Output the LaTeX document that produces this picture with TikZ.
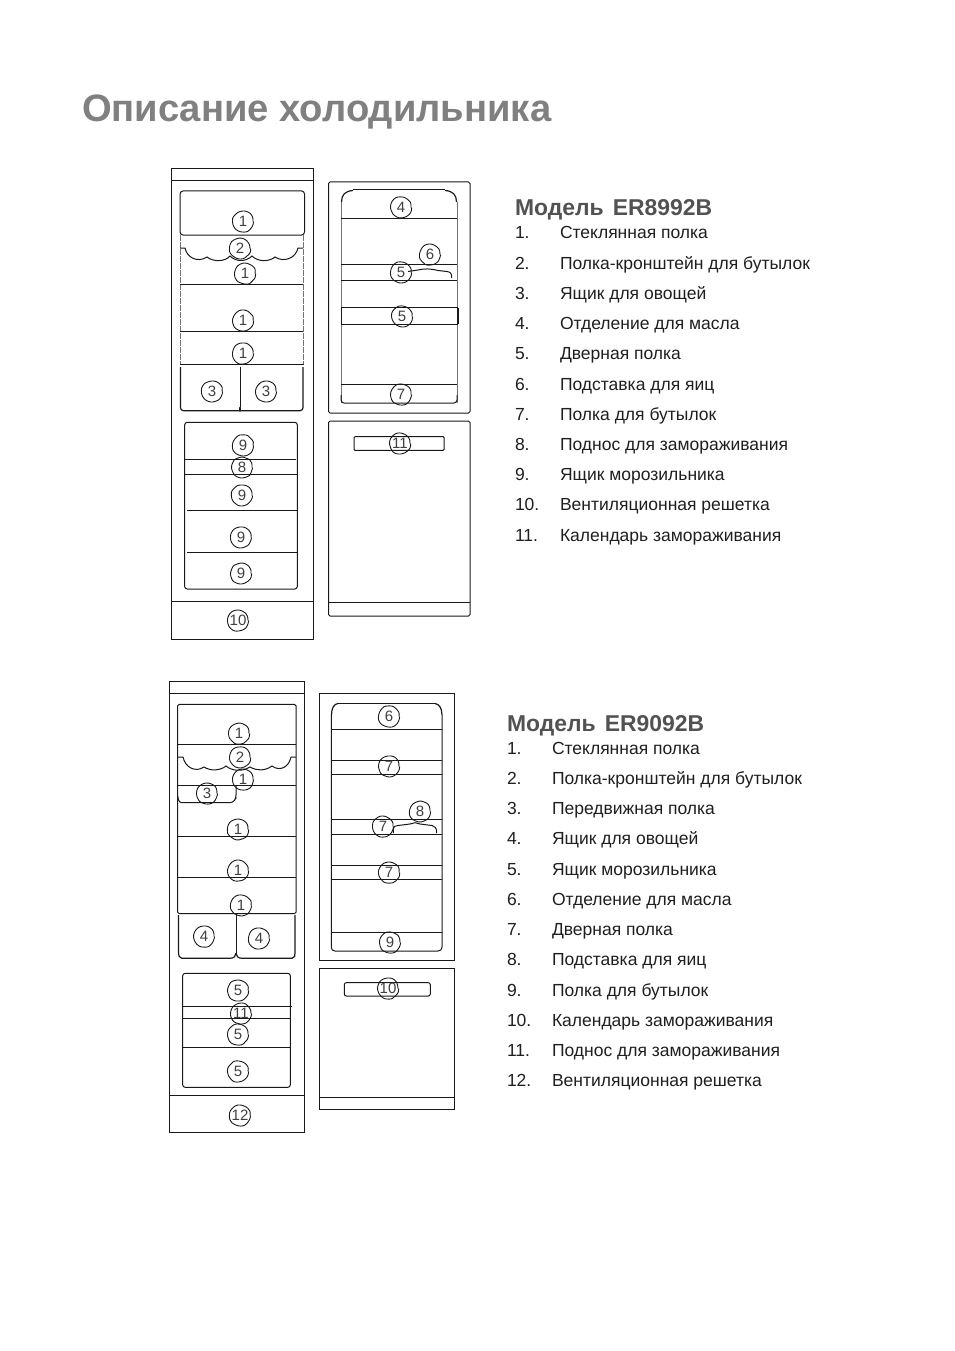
\documentclass[tikz,border=0pt]{standalone}
\usepackage{fontspec}
\usetikzlibrary{decorations.pathmorphing}
\setmainfont{Liberation Sans}
\pgfmathsetseed{7}
\tikzset{
  every node/.style={inner sep=0pt,outer sep=0pt},
  ln/.style={draw=black!90,line width=1pt},
  thick ln/.style={draw=black!90,line width=1.6pt},
  faint/.style={draw=black!55,line width=0.7pt,dash pattern=on 6pt off 1pt},
  side/.style={draw=black!55,line width=0.8pt},
  num/.style={circle,minimum size=20pt,yshift=-0.5pt,font=\fontsize{15}{16}\selectfont,text=black!75,
    draw=black!90,line width=0.9pt,decorate,decoration={random steps,segment length=4pt,amplitude=0.45pt},rounded corners=1pt},
  ttl/.style={anchor=base west,font=\fontsize{38.2}{40}\bfseries\selectfont,text=black!50},
  hd/.style={anchor=base west,font=\fontsize{22.9}{24}\bfseries\selectfont,text=black!68},
  it/.style={anchor=base west,font=\fontsize{17.5}{20}\selectfont,text=black!88},
}
\begin{document}
\begin{tikzpicture}[x=1pt,y=-1pt]
\useasboundingbox[fill=white] (0,0) rectangle (954,1351);
\node[ttl] (title) at (82,122) {Описание холодильника};

% ---------- ER8992B: cabinet
\draw[ln] (171.5,168.5) rectangle (313,639);
\draw[thick ln] (171.5,180.7) -- (313,180.7);
\draw[ln] (171.5,601.7) -- (313,601.7);
\draw[ln,rounded corners=3pt] (180,235) -- (180,191) -- (304.5,191) -- (304.5,235) -- cycle;
\draw[faint] (180.5,235) -- (180.5,364);
\draw[faint] (303,235) -- (303,364);
\draw[ln] (180,284) -- (303,284);
\draw[ln] (180,331) -- (303,331);
\draw[ln] (180,364) -- (304,364);
\draw[ln,line width=1.2pt,rounded corners=3pt] (180.5,367) -- (180.5,410.7) -- (237,410.7) .. controls (239,410.7) and (240,409) .. (240,407);
\draw[ln,line width=1.2pt,rounded corners=3pt] (303,367) -- (303,410.7) -- (243,410.7) .. controls (241,410.7) and (240,409) .. (240,407);
\draw[ln] (240,367) -- (240,407);
\draw[ln] (180,248) -- (185,248) .. controls (187,258) and (198,263) .. (207,257) .. controls (213,262) and (225,262) .. (230,256) .. controls (236,262) and (246,262) .. (252,256) .. controls (258,262) and (269,262) .. (275,257) .. controls (284,263) and (296,258) .. (298,248) -- (303,248);
% freezer
\draw[ln,rounded corners=2.5pt] (184.7,422.3) rectangle (297.3,589);
\draw[ln] (185,459.3) -- (296,459.3);
\draw[ln] (185,474) -- (297,474);
\draw[ln] (187,510) -- (297,510);
\draw[ln] (187,552.3) -- (297,552.3);
% door upper
\draw[ln,rounded corners=1.5pt] (328.5,182) rectangle (470,413);
\draw[side] (341,202) -- (341,403);
\draw[side] (457,202) -- (457,403);
\draw[ln] (353,190) -- (445,190);
\draw[ln,line width=1.2pt] (341.5,202) .. controls (341.5,195) and (345,191) .. (353,190.5);
\draw[ln,line width=1.2pt] (456.5,202) .. controls (456.5,195) and (453,191) .. (445,190.5);
\draw[ln,rounded corners=3pt] (341,395) -- (341,403) -- (457,403) -- (457,395);
\draw[ln] (341,218.7) -- (457,218.7);
\draw[ln] (341,264) -- (457,264);
\draw[ln] (341,280) -- (457,280);
\draw[ln] (341,307.7) -- (458,307.7);
\draw[ln] (341,324.3) -- (458,324.3);
\draw[ln,line width=1.2pt] (341.5,307.7) -- (341.5,324.3);
\draw[ln,line width=1.2pt] (458,307.7) -- (458,324.3);
\draw[ln] (341,384) -- (457,384);
\draw[ln] (408,271.5) -- (418,270) .. controls (425,268.5) and (430,268.5) .. (438,270.5) -- (447,271.5) .. controls (451,272) and (451.7,274) .. (451.7,278);
% door lower
\draw[ln,rounded corners=1.5pt] (328.5,421) rectangle (470,616);
\draw[ln] (328.5,602.7) -- (470,602.7);
\draw[ln,rounded corners=1pt] (354,436.7) rectangle (444,450.3);

\node[num] (a1) at (243,221) {1};
\node[num] (a2) at (240,248) {2};
\node[num] (a3) at (245,273) {1};
\node[num] (a4) at (243,320) {1};
\node[num] (a5) at (243,353) {1};
\node[num] (a6) at (212,391) {3};
\node[num] (a7) at (266,391) {3};
\node[num] (a8) at (401,207) {4};
\node[num] (a9) at (430,254) {6};
\node[num] (a10) at (401,272) {5};
\node[num] (a11) at (402,316) {5};
\node[num] (a12) at (401,394) {7};
\node[num] (a13) at (243,445) {9};
\node[num] (a14) at (242,467) {8};
\node[num] (a15) at (242,495) {9};
\node[num] (a16) at (241,537) {9};
\node[num] (a17) at (241,573) {9};
\node[num] (a18) at (238,620) {10};
\node[num] (a19) at (400,443) {11};

\node[hd] (h1) at (515,215) {Модель\hspace{0.12em} ER8992B};
\node[it] at (515,238) (n101) {1.}; \node[it] at (560,238) (t101) {Стеклянная полка};
\node[it] at (515,269) (n102) {2.}; \node[it] at (560,269) (t102) {Полка-кронштейн для бутылок};
\node[it] at (515,299) (n103) {3.}; \node[it] at (560,299) (t103) {Ящик для овощей};
\node[it] at (515,329) (n104) {4.}; \node[it] at (560,329) (t104) {Отделение для масла};
\node[it] at (515,359) (n105) {5.}; \node[it] at (560,359) (t105) {Дверная полка};
\node[it] at (515,390) (n106) {6.}; \node[it] at (560,390) (t106) {Подставка для яиц};
\node[it] at (515,420) (n107) {7.}; \node[it] at (560,420) (t107) {Полка для бутылок};
\node[it] at (515,450) (n108) {8.}; \node[it] at (560,450) (t108) {Поднос для замораживания};
\node[it] at (515,480) (n109) {9.}; \node[it] at (560,480) (t109) {Ящик морозильника};
\node[it] at (515,510) (n110) {10.}; \node[it] at (560,510) (t110) {Вентиляционная решетка};
\node[it] at (515,541) (n111) {11.}; \node[it] at (560,541) (t111) {Календарь замораживания};

% ---------- ER9092B: cabinet
\draw[ln] (169.7,681.7) rectangle (304.7,1132);
\draw[ln] (169.7,693.3) -- (304.7,693.3);
\draw[ln] (169.7,1095.7) -- (304.7,1095.7);
\draw[ln,rounded corners=1.5pt] (177.7,913.7) -- (177.7,704.3) -- (296,704.3) -- (296,913.7) -- cycle;
\draw[ln] (177.7,744) -- (296,744);
\draw[ln] (177.7,785) -- (296,785);
\draw[ln] (177.7,836.7) -- (296,836.7);
\draw[ln] (177.7,877.7) -- (296,877.7);
\draw[ln,rounded corners=3pt] (177.7,796) -- (179,802.7) -- (233,802.7) -- (236,798) -- (236,785);
\draw[ln] (177.7,757) -- (183,757) .. controls (185,767) and (195,773) .. (204,767) .. controls (210,771) and (220,771) .. (226,766) .. controls (232,771) and (242,772) .. (250,767) .. controls (257,771) and (265,771) .. (272,766) .. controls (280,772) and (289,767) .. (291,757) -- (296,757);
\draw[ln,line width=1.2pt] (178.5,915) -- (178.5,953) .. controls (178.5,955) and (179,958.3) .. (182,958.3) -- (230,958.3) .. controls (234,958.3) and (236,956) .. (236,953);
\draw[ln,line width=1.2pt] (295,915) -- (295,953) .. controls (295,955) and (295,958.3) .. (292,958.3) -- (242,958.3) .. controls (238,958.3) and (236,956) .. (236,953);
\draw[ln] (236,913.7) -- (236,953);
% freezer
\draw[ln,rounded corners=2.5pt] (182.7,973.3) rectangle (290.3,1087.3);
\draw[thick ln] (186,973.3) -- (288,973.3);
\draw[ln] (182.7,1006.7) -- (291.5,1006.7);
\draw[ln] (182.7,1018.7) -- (290.3,1018.7);
\draw[ln] (182.7,1047.7) -- (290.3,1047.7);
% door upper
\draw[ln] (319,693.3) rectangle (454.7,960);
\draw[ln] (331.3,715) -- (331.3,947) .. controls (331.3,949.5) and (332.5,951) .. (335,951) -- (438,951) .. controls (440.5,951) and (442,949.5) .. (442,947) -- (442,715);
\draw[ln] (338,703.3) -- (435,703.3);
\draw[ln,line width=1.2pt] (331.5,715) .. controls (331.5,708) and (334,704) .. (338,703.5);
\draw[ln,line width=1.2pt] (442,715) .. controls (442,708) and (439,704) .. (435,703.5);
\draw[ln] (331.3,729.3) -- (442,729.3);
\draw[ln] (331.3,760.7) -- (442,760.7);
\draw[ln] (331.3,774) -- (442,774);
\draw[ln] (331.3,819.7) -- (442,819.7);
\draw[ln] (331.3,834.3) -- (442,834.3);
\draw[ln] (331.3,865.7) -- (442,865.7);
\draw[ln] (331.3,879) -- (442,879);
\draw[ln] (331.3,932.7) -- (442,932.7);
\draw[ln] (393.3,833) -- (393.3,829) .. controls (393.5,826.5) and (395,825.7) .. (398,825.5) -- (410,824) -- (415,822.7) -- (420,824) -- (432,825.5) .. controls (435,826) and (436.7,828) .. (436.7,833);
% door lower
\draw[ln] (319,968.3) rectangle (454.7,1109.3);
\draw[ln] (319,1097.7) -- (454.7,1097.7);
\draw[ln,rounded corners=2pt] (344.3,982.7) rectangle (430.3,996);

\node[num] (b1) at (239,733) {1};
\node[num] (b2) at (240,757) {2};
\node[num] (b3) at (243,779) {1};
\node[num] (b4) at (207,793) {3};
\node[num] (b5) at (238,829) {1};
\node[num] (b6) at (238,870) {1};
\node[num] (b7) at (241,905) {1};
\node[num] (b8) at (204,936) {4};
\node[num] (b9) at (259,938) {4};
\node[num] (b10) at (389,716) {6};
\node[num] (b11) at (389,766) {7};
\node[num] (b12) at (420,811) {8};
\node[num] (b13) at (383,826) {7};
\node[num] (b14) at (389,872) {7};
\node[num] (b15) at (390,942) {9};
\node[num] (b16) at (238,990) {5};
\node[num] (b17) at (241,1013) {11};
\node[num] (b18) at (238,1034) {5};
\node[num] (b19) at (238,1071) {5};
\node[num] (b20) at (240,1115) {12};
\node[num] (b21) at (388,988) {10};

\node[hd] (h2) at (507,731) {Модель\hspace{0.12em} ER9092B};
\node[it] at (507,754) (n201) {1.}; \node[it] at (552,754) (t201) {Стеклянная полка};
\node[it] at (507,784) (n202) {2.}; \node[it] at (552,784) (t202) {Полка-кронштейн для бутылок};
\node[it] at (507,814) (n203) {3.}; \node[it] at (552,814) (t203) {Передвижная полка};
\node[it] at (507,844) (n204) {4.}; \node[it] at (552,844) (t204) {Ящик для овощей};
\node[it] at (507,875) (n205) {5.}; \node[it] at (552,875) (t205) {Ящик морозильника};
\node[it] at (507,905) (n206) {6.}; \node[it] at (552,905) (t206) {Отделение для масла};
\node[it] at (507,935) (n207) {7.}; \node[it] at (552,935) (t207) {Дверная полка};
\node[it] at (507,965) (n208) {8.}; \node[it] at (552,965) (t208) {Подставка для яиц};
\node[it] at (507,996) (n209) {9.}; \node[it] at (552,996) (t209) {Полка для бутылок};
\node[it] at (507,1026) (n210) {10.}; \node[it] at (552,1026) (t210) {Календарь замораживания};
\node[it] at (507,1056) (n211) {11.}; \node[it] at (552,1056) (t211) {Поднос для замораживания};
\node[it] at (507,1086) (n212) {12.}; \node[it] at (552,1086) (t212) {Вентиляционная решетка};
\end{tikzpicture}
\end{document}
